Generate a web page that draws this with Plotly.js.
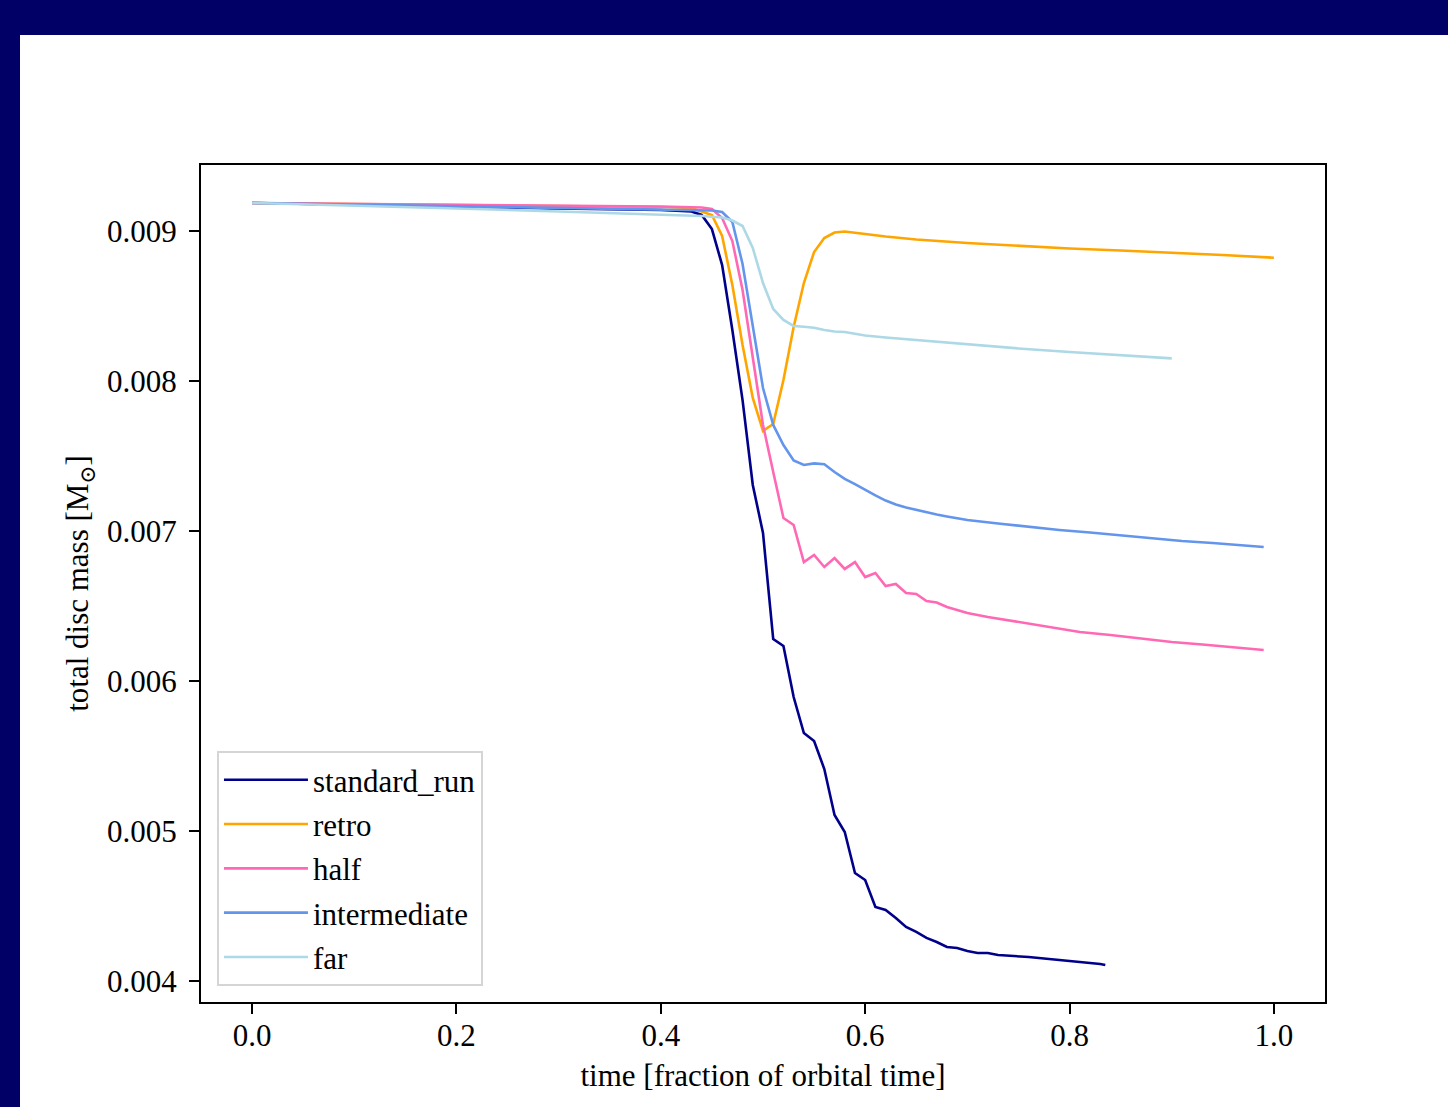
<!DOCTYPE html>
<html>
<head>
<meta charset="utf-8">
<script src="https://cdn.plot.ly/plotly-3.0.1.min.js"></script>
<style>
  html, body { margin: 0; padding: 0; background: #000066; width: 1448px; height: 1107px; overflow: hidden; }
  #chart { position: absolute; left: 20px; top: 35px; width: 1428px; height: 1072px; background: #ffffff; }
</style>
</head>
<body>
<div id="chart"></div>
<script>
// ---- data ----
const seriesNames = ["standard_run", "retro", "half", "intermediate", "far"];
const seriesColors = ["#00008B", "#FFA500", "#FF69B4", "#6495ED", "#ADD8E6"];

const tStandard = [0.00, 0.10, 0.20, 0.30, 0.40, 0.43, 0.44, 0.45, 0.46, 0.47, 0.48, 0.49, 0.50,
  0.51, 0.52, 0.53, 0.54, 0.55, 0.56, 0.57, 0.58, 0.59, 0.60, 0.61, 0.62, 0.63, 0.64, 0.65, 0.66,
  0.67, 0.68, 0.69, 0.70, 0.71, 0.72, 0.73, 0.74, 0.75, 0.76, 0.77, 0.78, 0.79, 0.80, 0.81, 0.82, 0.83, 0.835];
const mStandard = [0.009187, 0.009177, 0.009163, 0.00915, 0.00914, 0.00913, 0.009107, 0.009013, 0.008773, 0.00834, 0.007873, 0.007307, 0.006987,
  0.00628, 0.006233, 0.005893, 0.005653, 0.0056, 0.005413, 0.005107, 0.004993, 0.00472, 0.004673, 0.004493, 0.004473, 0.00442, 0.00436, 0.004327, 0.004287,
  0.00426, 0.004227, 0.00422, 0.0042, 0.004187, 0.004187, 0.004173, 0.00417, 0.004167, 0.00416, 0.004153, 0.004147, 0.00414, 0.004133, 0.004127, 0.00412, 0.004113, 0.004107];

const tRetro = [0.00, 0.10, 0.20, 0.30, 0.40, 0.43, 0.45, 0.46, 0.47, 0.48, 0.49, 0.50, 0.51, 0.52, 0.53, 0.54,
  0.55, 0.56, 0.57, 0.58, 0.59, 0.60, 0.62, 0.65, 0.70, 0.75, 0.80, 0.85, 0.90, 0.95, 1.00];
const mRetro = [0.009187, 0.00918, 0.009177, 0.00917, 0.00916, 0.009153, 0.009107, 0.008967, 0.00864, 0.00824, 0.007887, 0.007667, 0.007713, 0.008007, 0.00836, 0.008653,
  0.00886, 0.008953, 0.00899, 0.008997, 0.00899, 0.00898, 0.008963, 0.008943, 0.00892, 0.0089, 0.008883, 0.00887, 0.008857, 0.00884, 0.008822];

const tHalf = [0.00, 0.10, 0.20, 0.30, 0.40, 0.44, 0.45, 0.46, 0.47, 0.48, 0.49, 0.50, 0.51, 0.52, 0.53, 0.54,
  0.55, 0.56, 0.57, 0.58, 0.59, 0.60, 0.61, 0.62, 0.63, 0.64, 0.65, 0.66, 0.67, 0.68, 0.69, 0.70,
  0.72, 0.75, 0.78, 0.81, 0.84, 0.87, 0.90, 0.93, 0.96, 0.99];
const mHalf = [0.009187, 0.009181, 0.009177, 0.00917, 0.009163, 0.009157, 0.009147, 0.009087, 0.008933, 0.008607, 0.00814, 0.007707, 0.007393, 0.007087, 0.00704, 0.006793,
  0.00684, 0.00676, 0.00682, 0.006747, 0.006793, 0.006693, 0.00672, 0.006633, 0.006647, 0.006587, 0.00658, 0.006533, 0.006523, 0.006493, 0.006473, 0.006453,
  0.006427, 0.006393, 0.006357, 0.006327, 0.006307, 0.006283, 0.00626, 0.006243, 0.006225, 0.006207];

const tInter = [0.00, 0.10, 0.20, 0.30, 0.40, 0.45, 0.46, 0.47, 0.48, 0.49, 0.50, 0.51, 0.52, 0.53, 0.54,
  0.55, 0.56, 0.57, 0.58, 0.59, 0.60, 0.61, 0.62, 0.63, 0.64, 0.65, 0.66, 0.67, 0.68, 0.69, 0.70,
  0.73, 0.76, 0.79, 0.82, 0.85, 0.88, 0.91, 0.94, 0.97, 0.99];
const mInter = [0.009187, 0.009177, 0.009167, 0.009153, 0.009143, 0.009137, 0.009127, 0.00906, 0.00878, 0.00836, 0.007953, 0.007707, 0.007573, 0.00747, 0.00744,
  0.007451, 0.007445, 0.007393, 0.007347, 0.007313, 0.007273, 0.007237, 0.007203, 0.007177, 0.007157, 0.00714, 0.007123, 0.00711, 0.007097, 0.007087, 0.007073,
  0.00705, 0.007027, 0.007007, 0.00699, 0.006971, 0.00695, 0.006933, 0.00692, 0.006905, 0.006893];

const tFar = [0.00, 0.10, 0.20, 0.30, 0.40, 0.44, 0.46, 0.47, 0.48, 0.49, 0.50, 0.51, 0.52, 0.53, 0.54,
  0.55, 0.56, 0.57, 0.58, 0.59, 0.60, 0.62, 0.65, 0.70, 0.75, 0.80, 0.85, 0.90];
const mFar = [0.009187, 0.00917, 0.00915, 0.00913, 0.00911, 0.0091, 0.00909, 0.00907, 0.009033, 0.008887, 0.008653, 0.00848, 0.008407, 0.008367, 0.008362,
  0.008355, 0.00834, 0.00833, 0.008327, 0.008313, 0.008303, 0.00829, 0.008273, 0.008243, 0.008217, 0.008193, 0.008173, 0.008151];

const xTickVals = [0.0, 0.2, 0.4, 0.6, 0.8, 1.0];
const yTickVals = [0.004, 0.005, 0.006, 0.007, 0.008, 0.009];

// ---- chart ----
const times = [tStandard, tRetro, tHalf, tInter, tFar];
const masses = [mStandard, mRetro, mHalf, mInter, mFar];

const FONT = "'Liberation Serif', 'DejaVu Serif', serif";
const FS = 31;

const traces = seriesNames.map((name, i) => ({
  type: "scatter",
  mode: "lines",
  name: name,
  legendgroup: "g" + i,
  x: times[i],
  y: masses[i],
  line: { color: seriesColors[i], width: 2.6 },
  hoverinfo: "skip"
}));

const layout = {
  width: 1428,
  height: 1072,
  paper_bgcolor: "#ffffff",
  plot_bgcolor: "#ffffff",
  margin: { l: 181, r: 123, t: 130, b: 105, pad: 0 },
  font: { family: FONT, size: FS, color: "#000000" },
  showlegend: true,
  legend: {
    x: 0.0142, y: 0.019, xanchor: "left", yanchor: "bottom",
    bgcolor: "rgba(255,255,255,0.8)",
    bordercolor: "#d5d5d5", borderwidth: 2,
    font: { family: FONT, size: FS, color: "#000000" },
    tracegroupgap: 1,
    itemwidth: 84
  },
  xaxis: {
    range: [-0.05, 1.05],
    tickvals: xTickVals,
    tickformat: ".1f",
    ticks: "outside", ticklen: 10, tickwidth: 2, tickcolor: "#000",
    ticklabelstandoff: -5,
    showline: true, linecolor: "#000", linewidth: 2, mirror: true,
    showgrid: false, zeroline: false,
    tickfont: { family: FONT, size: FS },
    title: { text: "time [fraction of orbital time]", font: { family: FONT, size: FS }, standoff: 12 }
  },
  yaxis: {
    range: [0.00386, 0.00944],
    tickvals: yTickVals,
    tickformat: ".3f",
    ticks: "outside", ticklen: 10, tickwidth: 2, tickcolor: "#000",
    ticklabelstandoff: 6,
    showline: true, linecolor: "#000", linewidth: 2, mirror: true,
    showgrid: false, zeroline: false,
    tickfont: { family: FONT, size: FS },
    title: { text: "total disc mass [M<sub>⊙</sub>]", font: { family: FONT, size: FS }, standoff: 9 }
  }
};

Plotly.newPlot("chart", traces, layout, { staticPlot: true, displayModeBar: false });
</script>
</body>
</html>
